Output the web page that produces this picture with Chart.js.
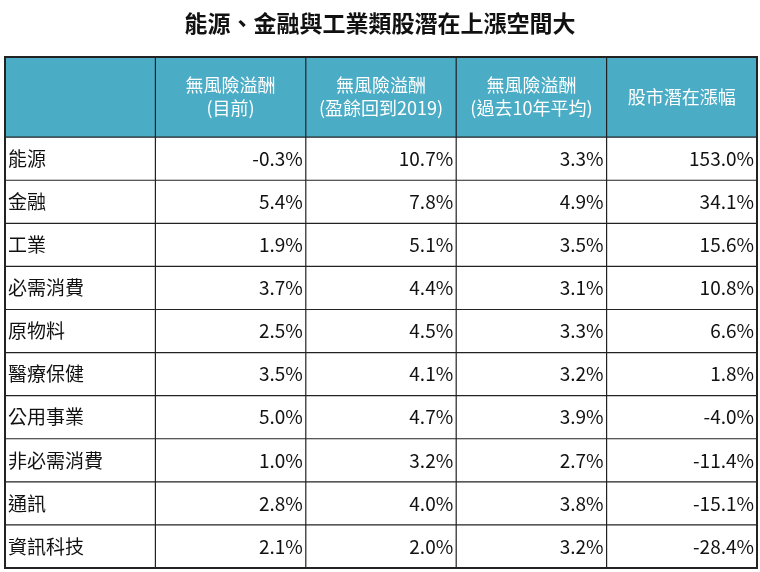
<!DOCTYPE html>
<html>
<head>
<meta charset="utf-8">
<script src="https://cdn.jsdelivr.net/npm/chart.js@4/dist/chart.umd.min.js"></script>
<style>
  body { margin: 0; background: #fff; }
  #wrap { width: 760px; height: 572px; }
</style>
</head>
<body>
<div id="wrap"><canvas id="tabla"></canvas></div>
<script>
// datos de la tabla
const titulo = '能源、金融與工業類股潛在上漲空間大';
const encabezados = [['無風險溢酬', '(目前)'], ['無風險溢酬', '(盈餘回到2019)'], ['無風險溢酬', '(過去10年平均)'], ['股市潛在漲幅']];
const sectores = ['能源', '金融', '工業', '必需消費', '原物料', '醫療保健', '公用事業', '非必需消費', '通訊', '資訊科技'];
const primaActual = [-0.3, 5.4, 1.9, 3.7, 2.5, 3.5, 5.0, 1.0, 2.8, 2.1];
const primaGanancias2019 = [10.7, 7.8, 5.1, 4.4, 4.5, 4.1, 4.7, 3.2, 4.0, 2.0];
const primaPromedio10 = [3.3, 4.9, 3.5, 3.1, 3.3, 3.2, 3.9, 2.7, 3.8, 3.2];
const subidaPotencial = [153.0, 34.1, 15.6, 10.8, 6.6, 1.8, -4.0, -11.4, -15.1, -28.4];

const columnas = [primaActual, primaGanancias2019, primaPromedio10, subidaPotencial];
const ALTO_HEADER = 1.86; // la fila de encabezado es más alta
const FUENTE = '"Noto Sans CJK TC", "Noto Sans", sans-serif';

// plugin que dibuja la tabla usando las escalas del gráfico
const dibujarTabla = {
  id: 'dibujarTabla',
  afterDraw(chart) {
    const ctx = chart.ctx;
    const x = chart.scales.x;
    const y = chart.scales.y;
    const px = v => x.getPixelForValue(v);
    const py = v => y.getPixelForValue(v);

    ctx.save();
    // titulo
    ctx.fillStyle = '#111';
    ctx.font = 'bold 23px ' + FUENTE;
    ctx.textAlign = 'center';
    ctx.textBaseline = 'middle';
    ctx.fillText(titulo, 380, 23);

    // fondo del encabezado
    ctx.fillStyle = '#4bacc6';
    ctx.fillRect(px(0), py(0), px(5) - px(0), py(ALTO_HEADER) - py(0));

    // textos del encabezado
    ctx.fillStyle = '#fff';
    ctx.font = '18px ' + FUENTE;
    encabezados.forEach((lineas, i) => {
      const cx = (px(i + 1) + px(i + 2)) / 2;
      const cy = (py(0) + py(ALTO_HEADER)) / 2;
      const alto = 23;
      lineas.forEach((t, j) => {
        ctx.fillText(t, cx, cy + (j - (lineas.length - 1) / 2) * alto);
      });
    });

    // filas
    ctx.fillStyle = '#111';
    ctx.font = '19px ' + FUENTE;
    sectores.forEach((s, r) => {
      const cy = (py(ALTO_HEADER + r) + py(ALTO_HEADER + r + 1)) / 2;
      ctx.textAlign = 'left';
      ctx.fillText(s, px(0) + 3, cy);
      ctx.textAlign = 'right';
      columnas.forEach((col, c) => {
        ctx.fillText(col[r].toFixed(1) + '%', px(c + 2) - 3, cy);
      });
    });

    // lineas de la grilla
    ctx.strokeStyle = '#222';
    ctx.lineWidth = 1.2;
    for (let c = 0; c <= 5; c++) {
      ctx.beginPath();
      ctx.moveTo(px(c), py(0));
      ctx.lineTo(px(c), py(ALTO_HEADER + sectores.length));
      ctx.stroke();
    }
    for (let r = 0; r <= sectores.length; r++) {
      const v = r === 0 ? 0 : ALTO_HEADER + r - 1;
      ctx.beginPath();
      ctx.moveTo(px(0), py(v));
      ctx.lineTo(px(5), py(v));
      ctx.stroke();
    }
    ctx.beginPath();
    ctx.moveTo(px(0), py(ALTO_HEADER + sectores.length));
    ctx.lineTo(px(5), py(ALTO_HEADER + sectores.length));
    ctx.stroke();
    ctx.lineWidth = 2;
    ctx.strokeRect(px(0), py(0), px(5) - px(0), py(ALTO_HEADER + sectores.length) - py(0));
    ctx.restore();
  }
};

new Chart(document.getElementById('tabla'), {
  type: 'scatter',
  data: { datasets: [{ data: [] }] },
  options: {
    responsive: true,
    maintainAspectRatio: false,
    animation: false,
    layout: { padding: { left: 5, right: 3, top: 57, bottom: 4 } },
    plugins: { legend: { display: false }, tooltip: { enabled: false } },
    scales: {
      x: { type: 'linear', min: 0, max: 5, display: false },
      y: { type: 'linear', min: 0, max: ALTO_HEADER + sectores.length, reverse: true, display: false }
    }
  },
  plugins: [dibujarTabla]
});
</script>
</body>
</html>
